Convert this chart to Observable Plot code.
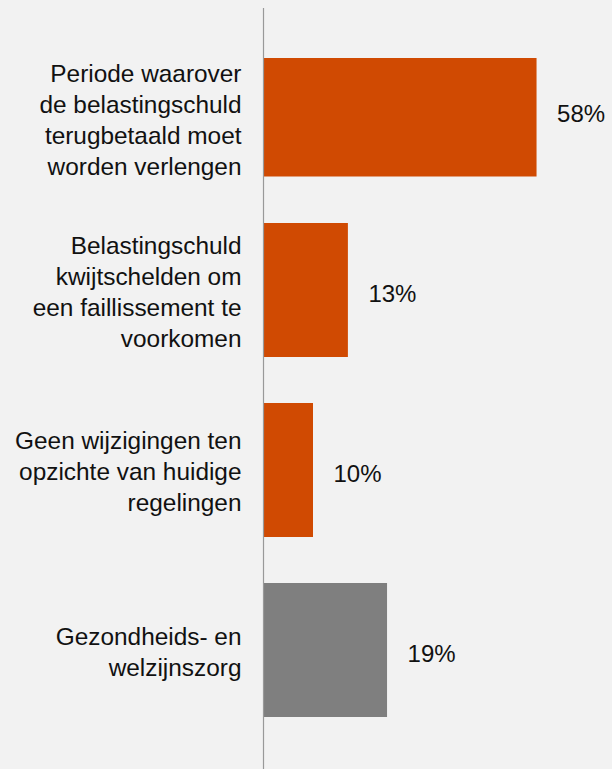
<!DOCTYPE html>
<html>
<head>
<meta charset="utf-8">
<script src="https://cdn.jsdelivr.net/npm/d3@7"></script>
<script src="https://cdn.jsdelivr.net/npm/@observablehq/plot@0.6"></script>
<style>
  html, body { margin: 0; padding: 0; background: #f2f2f2; }
  #chart svg { display: block; }
</style>
</head>
<body>
<div id="chart"></div>
<script>
// Categories (line breaks as in the picture)
const categories = [
  "Periode waarover\nde belastingschuld\nterugbetaald moet\nworden verlengen",
  "Belastingschuld\nkwijtschelden om\neen faillissement te\nvoorkomen",
  "Geen wijzigingen ten\nopzichte van huidige\nregelingen",
  "Gezondheids- en\nwelzijnszorg"
];
// Printed values (labels)
const values = [58, 13, 10, 19];
// Bar lengths as drawn in the picture (same % axis units)
const barLengths = [58, 18, 10.6, 26.3];
const valueLabels = ["58%", "13%", "10%", "19%"];

const data = categories.map((c, i) => ({
  category: c,
  value: values[i],
  length: barLengths[i],
  label: valueLabels[i],
  index: i
}));

const ORANGE = "#d04a02";
const GREY = "#7f7f7f";
const fillOf = d => d.index === categories.length - 1 ? GREY : ORANGE;
const first = data.filter(d => d.index === 0);
const rest = data.filter(d => d.index !== 0);
const FS = 24.4;

const chart = Plot.plot({
  width: 612,
  height: 769,
  marginLeft: 263,
  marginRight: 0,
  marginTop: 8,
  marginBottom: 0,
  x: { domain: [0, 74], axis: null },
  y: { domain: categories, range: [20, 742], padding: 0, axis: null },
  style: {
    background: "#f2f2f2",
    fontFamily: "'Liberation Sans', Arial, Helvetica, sans-serif",
    fontSize: FS + "px",
    color: "#111"
  },
  marks: [
    Plot.barX(first, {
      x: "length", y: "category", fill: fillOf,
      insetTop: 37, insetBottom: 24.5
    }),
    Plot.barX(rest, {
      x: "length", y: "category", fill: fillOf,
      insetTop: 22, insetBottom: 24
    }),
    Plot.ruleX([0], { stroke: "#999", strokeWidth: 1.2 }),
    Plot.text(first, {
      x: 0, y: "category", text: "category",
      textAnchor: "end", dx: -22, dy: 7,
      lineHeight: 1.27, fill: "#111", fontSize: FS
    }),
    Plot.text(rest, {
      x: 0, y: "category", text: "category",
      textAnchor: "end", dx: -22, dy: -1,
      lineHeight: 1.27, fill: "#111", fontSize: FS
    }),
    Plot.text(data, {
      x: "length", y: "category", text: "label",
      textAnchor: "start", dx: 20, dy: 3,
      fill: "#111", fontSize: 24
    })
  ]
});

document.getElementById("chart").appendChild(chart);
</script>
</body>
</html>
